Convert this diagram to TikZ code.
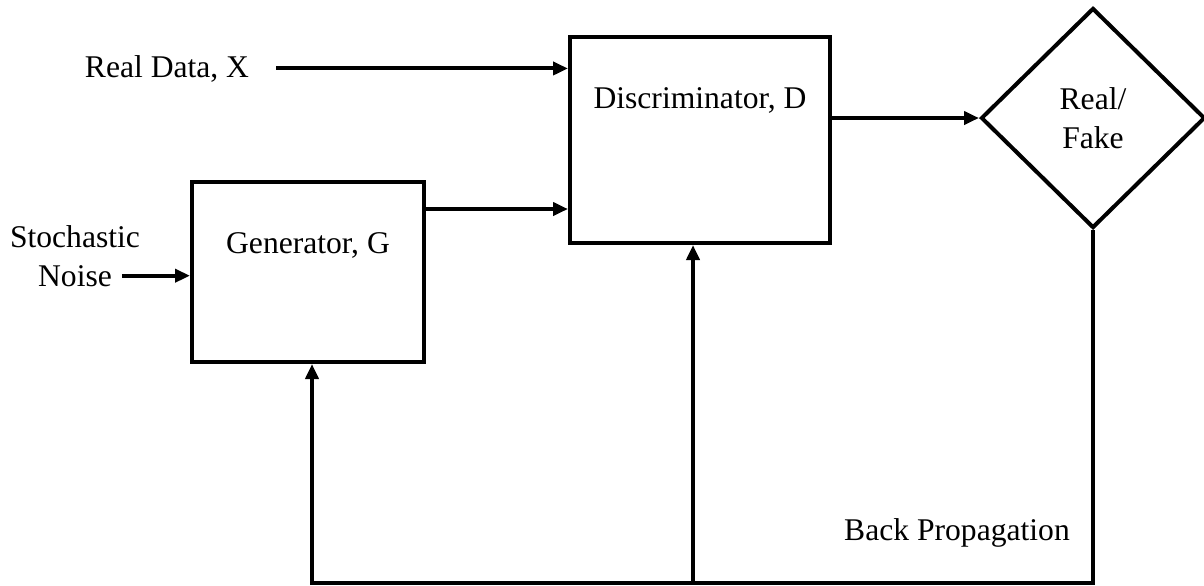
\documentclass[tikz,border=0pt]{standalone}
\usepackage{fontspec}
\setmainfont{Liberation Serif}
\usetikzlibrary{arrows.meta,shapes.geometric}
\begin{document}
\begin{tikzpicture}[x=0.5pt,y=-0.5pt,
  font=\fontsize{15.8}{19.5}\selectfont,
  line width=2pt,
  box/.style={draw, rectangle, inner sep=0pt},
  decision/.style={draw, diamond, inner sep=0pt, align=center, minimum width=112pt, minimum height=110pt},
  txt/.style={inner sep=0pt, anchor=base},
  arr/.style={-{Triangle[length=7.5pt,width=6.5pt]}},
  line join=miter]
\useasboundingbox (0,0) rectangle (1204,585);
% boxes
\node[box, minimum width=116pt, minimum height=90pt] (G) at (308,272) {};
\node[box, minimum width=130pt, minimum height=103pt] (D) at (700,140) {};
\node[decision] (F) at (1093,118) {Real/\\Fake};
% texts
\node[txt] (Gt) at (308,253) {Generator, G};
\node[txt] (Dt) at (700,108) {Discriminator, D};
\node[txt, inner xsep=12.5pt] (rd) at (167,77) {Real Data, X};
\node[txt] (sto) at (75,247) {Stochastic};
\node[txt, inner xsep=4pt] (noi) at (75,286) {Noise};
\node[txt] (bp) at (957,540) {Back Propagation};
% coordinates
\coordinate (g2d) at (424,209);
\coordinate (gfb) at (312,583);
\coordinate (dfb) at (693,583);
% connectors
\draw[arr] (rd.east) -- (D.west |- rd.east);
\draw[arr] (noi.east) -- (G.west |- noi.east);
\draw[arr] (g2d) -- (D.west |- g2d);
\draw[arr] (D.east |- F.west) -- (F.west);
\draw[arr] (F.south) -- (F.south |- gfb) -- (gfb) -- (G.south -| gfb);
\draw[arr] (dfb) -- (D.south -| dfb);
\end{tikzpicture}
\end{document}
